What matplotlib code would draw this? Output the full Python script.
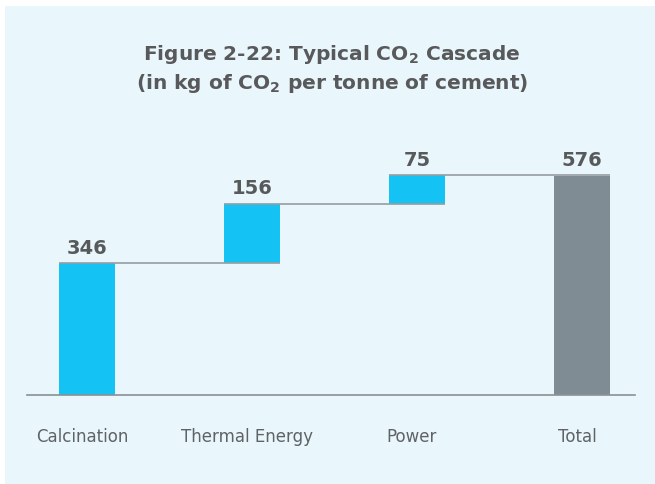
import matplotlib
matplotlib.use("Agg")
import matplotlib.pyplot as plt
import matplotlib.transforms as mtransforms
from matplotlib.patches import Rectangle

categories = ["Calcination", "Thermal Energy", "Power", "Total"]
values = [346, 156, 75, 576]
is_total = [False, False, False, True]
title_line1 = r"Figure 2-22: Typical CO$_\mathbf{2}$ Cascade"
title_line2 = r"(in kg of CO$_\mathbf{2}$ per tonne of cement)"

BG = "#e9f6fc"
CYAN = "#14c3f4"
GREY = "#7f8c94"
TEXT = "#58595b"
LINE = "#979da1"

plt.rcParams["mathtext.fontset"] = "dejavusans"
plt.rcParams["font.family"] = ["DejaVu Sans"]

W, H = 655, 485
fig = plt.figure(figsize=(W / 100, H / 100), dpi=100)
fig.patch.set_facecolor("white")
fig.patches.append(Rectangle((5 / W, 0), 1 - 5 / W, 1 - 7 / H,
                             transform=fig.transFigure, facecolor=BG,
                             edgecolor="none", zorder=-5))

# axes placement in pixels
left_px, right_px = 27, 635
base_px = 396
px_per_unit = 0.381
ax_h_px = 300
ax = fig.add_axes([left_px / W, (H - base_px) / H,
                   (right_px - left_px) / W, ax_h_px / H])
ax.set_facecolor("none")
ax.set_zorder(2)

x = list(range(len(categories)))
bw = 0.34
bottoms = []
tops = []
run = 0
for v, t in zip(values, is_total):
    if t:
        bottoms.append(0)
        tops.append(v)
        run = v
    else:
        bottoms.append(run)
        run += v
        tops.append(run)

colors = [GREY if t else CYAN for t in is_total]
ax.bar(x, [t - b for t, b in zip(tops, bottoms)], bottom=bottoms, width=bw,
       color=colors, edgecolor="none", zorder=2)

# connector lines from left of bar i to right of bar i+1
for i in range(len(x) - 1):
    ax.plot([x[i] - bw / 2, x[i + 1] + bw / 2], [tops[i], tops[i]],
            color=LINE, lw=1.2, zorder=3, solid_capstyle="butt")

for xi, top, v in zip(x, tops, values):
    ax.annotate(str(v), (xi, top), xytext=(0, 7.5), textcoords="offset points",
                ha="center", va="baseline", fontsize=14, fontweight="bold",
                color=TEXT)

unit_px = 165
ax.set_xlim(-(87 - left_px) / unit_px, 3 + (right_px - 582) / unit_px)
ax.set_ylim(0, ax_h_px / px_per_unit)

for s in ["top", "right", "left"]:
    ax.spines[s].set_visible(False)
ax.spines["bottom"].set_color("#8a9196")
ax.spines["bottom"].set_linewidth(1.2)
ax.set_yticks([])
ax.set_xticks(x)
ax.set_xticklabels(categories, fontsize=12, color="#5f6366")
ax.tick_params(axis="x", length=0, pad=23)
shift = mtransforms.ScaledTranslation(-5 / 100, 0, fig.dpi_scale_trans)
for lbl in ax.get_xticklabels():
    lbl.set_transform(lbl.get_transform() + shift)

fig.text(332 / W, 1 - 60 / H, title_line1, ha="center", va="baseline",
         fontsize=14.5, fontweight="bold", color=TEXT)
fig.text(332 / W, 1 - 89 / H, title_line2, ha="center", va="baseline",
         fontsize=14.5, fontweight="bold", color=TEXT)

fig.savefig("out.png", dpi=100, facecolor=fig.get_facecolor())
